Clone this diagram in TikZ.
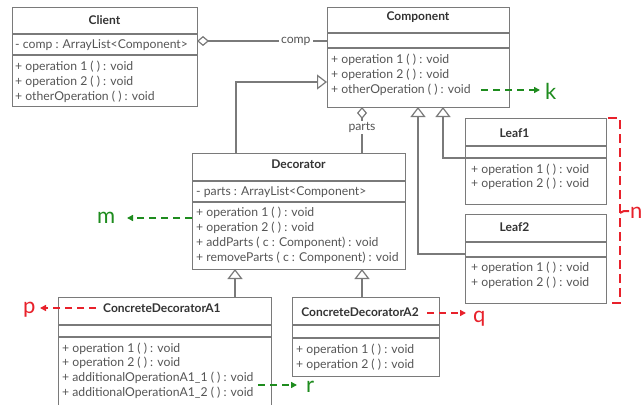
\documentclass[tikz,border=0pt]{standalone}
\usepackage{fontspec}
\setmainfont{Lato}
\usetikzlibrary{arrows.meta}
\definecolor{boxline}{HTML}{7A7A7A}
\definecolor{txt}{HTML}{555555}
\definecolor{ttl}{HTML}{333333}
\definecolor{annG}{HTML}{1E8C1E}
\definecolor{annR}{HTML}{E8212B}
\tikzset{
 umlbox/.style={draw=boxline, line width=1.2pt, fill=white, inner sep=0pt, anchor=north west},
 divider/.style={draw=boxline, line width=1.2pt},
 mtext/.style={anchor=west, inner sep=0pt, text=txt, font=\fontsize{12.2}{14}\selectfont},
 ttext/.style={inner sep=0pt, text=ttl, font=\fontsize{12}{14}\selectfont\bfseries},
 conn/.style={draw=boxline, line width=1.2pt},
 gen/.style={conn, -{Triangle[open, length=10pt, width=15pt, fill=white]}},
 agg/.style={conn, {Diamond[open, length=12pt, width=10pt, fill=white]}-},
 annot/.style={dash pattern=on 7pt off 5pt, line width=2pt, -{Triangle[length=6pt,width=6pt]}},
 lbl/.style={inner sep=0pt, anchor=base west, font=\fontsize{22}{26}\selectfont},
}
\newcommand\umlcls[7]{%
 \node[umlbox, minimum width={#4-#2}, minimum height={#5-#3}] (#1) at (#2,#3) {};
 \draw[divider] (#2,#6) -- (#4,#6);
 \draw[divider] (#2,#7) -- (#4,#7);
}
\begin{document}
\begin{tikzpicture}[x=1pt,y=-1pt]
\clip (0,0) rectangle (642,404);
\fill[white] (0,0) rectangle (642,404);

% connectors (drawn first, boxes on top)
\coordinate (clR) at (197,41);
\coordinate (coL) at (327,41);
\draw[agg] (clR) -- node[pos=0.76, fill=white, text=txt, inner sep=2pt, font=\fontsize{12.2}{14}\selectfont] (complbl) {comp} (coL);
\coordinate (decT) at (236,153);
\coordinate (coLg) at (327,82);
\draw[gen] (decT) |- (coLg);
\coordinate (coBp) at (362,107);
\coordinate (decTp) at (362,153);
\draw[agg] (coBp) -- node[pos=0.45, fill=white, text=txt, inner sep=1.5pt, font=\fontsize{12.2}{14}\selectfont] (partslbl) {parts} (decTp);
\coordinate (l1L) at (465,158);
\coordinate (coB1) at (443,107);
\draw[gen] (l1L) -| (coB1);
\coordinate (l2L) at (465,254);
\coordinate (coB2) at (418,107);
\draw[gen] (l2L) -| (coB2);
\coordinate (a1T) at (235,297);
\coordinate (decB1) at (235,269);
\draw[gen] (a1T) -- (decB1);
\coordinate (a2T) at (362,297);
\coordinate (decB2) at (362,269);
\draw[gen] (a2T) -- (decB2);

% Client
\umlcls{client}{12}{7}{197}{106}{34}{55}
\node[ttext] (clT) at (104.5,20) {Client};
\node[mtext] (clA) at (15,45) {- comp : ArrayList<Component>};
\node[mtext] (clM1) at (15,67) {+ operation 1 ( ) : void};
\node[mtext] (clM2) at (15,82) {+ operation 2 ( ) : void};
\node[mtext] (clM3) at (15,97) {+ otherOperation ( ) : void};

% Component
\umlcls{component}{327}{7}{509}{107}{33}{48}
\node[ttext] (coT) at (418,17) {Component};
\node[mtext] (coM1) at (331,60) {+ operation 1 ( ) : void};
\node[mtext] (coM2) at (331,75) {+ operation 2 ( ) : void};
\node[mtext] (coM3) at (331,90) {+ otherOperation ( ) : void};

% Decorator
\umlcls{decorator}{192}{153}{405}{269}{181}{202}
\node[ttext] (deT) at (298.5,164) {Decorator};
\node[mtext] (deA) at (196,192) {- parts : ArrayList<Component>};
\node[mtext] (deM1) at (196,213) {+ operation 1 ( ) : void};
\node[mtext] (deM2) at (196,228) {+ operation 2 ( ) : void};
\node[mtext] (deM3) at (196,243) {+ addParts ( c : Component) : void};
\node[mtext] (deM4) at (196,258) {+ removeParts ( c : Component) : void};

% Leaf1
\umlcls{leafa}{465}{118}{606}{204}{146}{158}
\node[ttext] (l1T) at (514.5,133) {Leaf1};
\node[mtext] (l1M1) at (471,170) {+ operation 1 ( ) : void};
\node[mtext] (l1M2) at (471,184) {+ operation 2 ( ) : void};

% Leaf2
\umlcls{leafb}{465}{214}{606}{303}{242}{257}
\node[ttext] (l2T) at (514.5,227) {Leaf2};
\node[mtext] (l2M1) at (471,268) {+ operation 1 ( ) : void};
\node[mtext] (l2M2) at (471,283) {+ operation 2 ( ) : void};

% ConcreteDecoratorA1
\umlcls{cda}{58}{297}{271}{412}{325}{337}
\node[ttext, anchor=west] (a1T) at (103,308) {ConcreteDecoratorA1};
\node[mtext] (a1M1) at (62,349) {+ operation 1 ( ) : void};
\node[mtext] (a1M2) at (62,363) {+ operation 2 ( ) : void};
\node[mtext] (a1M3) at (62,378) {+ additionalOperationA1\_1 ( ) : void};
\node[mtext] (a1M4) at (62,393) {+ additionalOperationA1\_2 ( ) : void};

% ConcreteDecoratorA2
\umlcls{cdb}{292}{297}{439}{376}{325}{338}
\node[ttext] (a2T) at (360,312) {ConcreteDecoratorA2};
\node[mtext] (a2M1) at (296,350) {+ operation 1 ( ) : void};
\node[mtext] (a2M2) at (296,365) {+ operation 2 ( ) : void};

% annotations
\node[lbl, text=annG] (k) at (545,99) {k};
\coordinate (kS) at (481,90);
\coordinate (kE) at (540,90);
\draw[annot, annG] (kS) -- (kE);
\node[lbl, text=annG] (m) at (97,223) {m};
\coordinate (mS) at (192,218);
\coordinate (mE) at (127,218);
\draw[annot, annG] (mS) -- (mE);
\node[lbl, text=annR] (p) at (23,313) {p};
\coordinate (pS) at (96,308);
\coordinate (pE) at (40,308);
\draw[annot, annR] (pS) -- (pE);
\node[lbl, text=annR] (q) at (473,322) {q};
\coordinate (qS) at (427,313);
\coordinate (qE) at (466,313);
\draw[annot, annR] (qS) -- (qE);
\node[lbl, text=annG] (r) at (306,392) {r};
\coordinate (rS) at (258,385);
\coordinate (rE) at (297,385);
\draw[annot, annG] (rS) -- (rE);
\coordinate (nT) at (608,118);
\coordinate (nB) at (608,303);
\coordinate (nM) at (620,213);
\draw[annR, line width=2pt, dash pattern=on 9pt off 5pt] (nT) -- (620,118) -- (620,303) -- (nB);
\node[lbl, text=annR] (n) at (630,218) {n};
\draw[annR, line width=2pt] (nM) .. controls (623,211) .. (629,211);
\end{tikzpicture}
\end{document}
